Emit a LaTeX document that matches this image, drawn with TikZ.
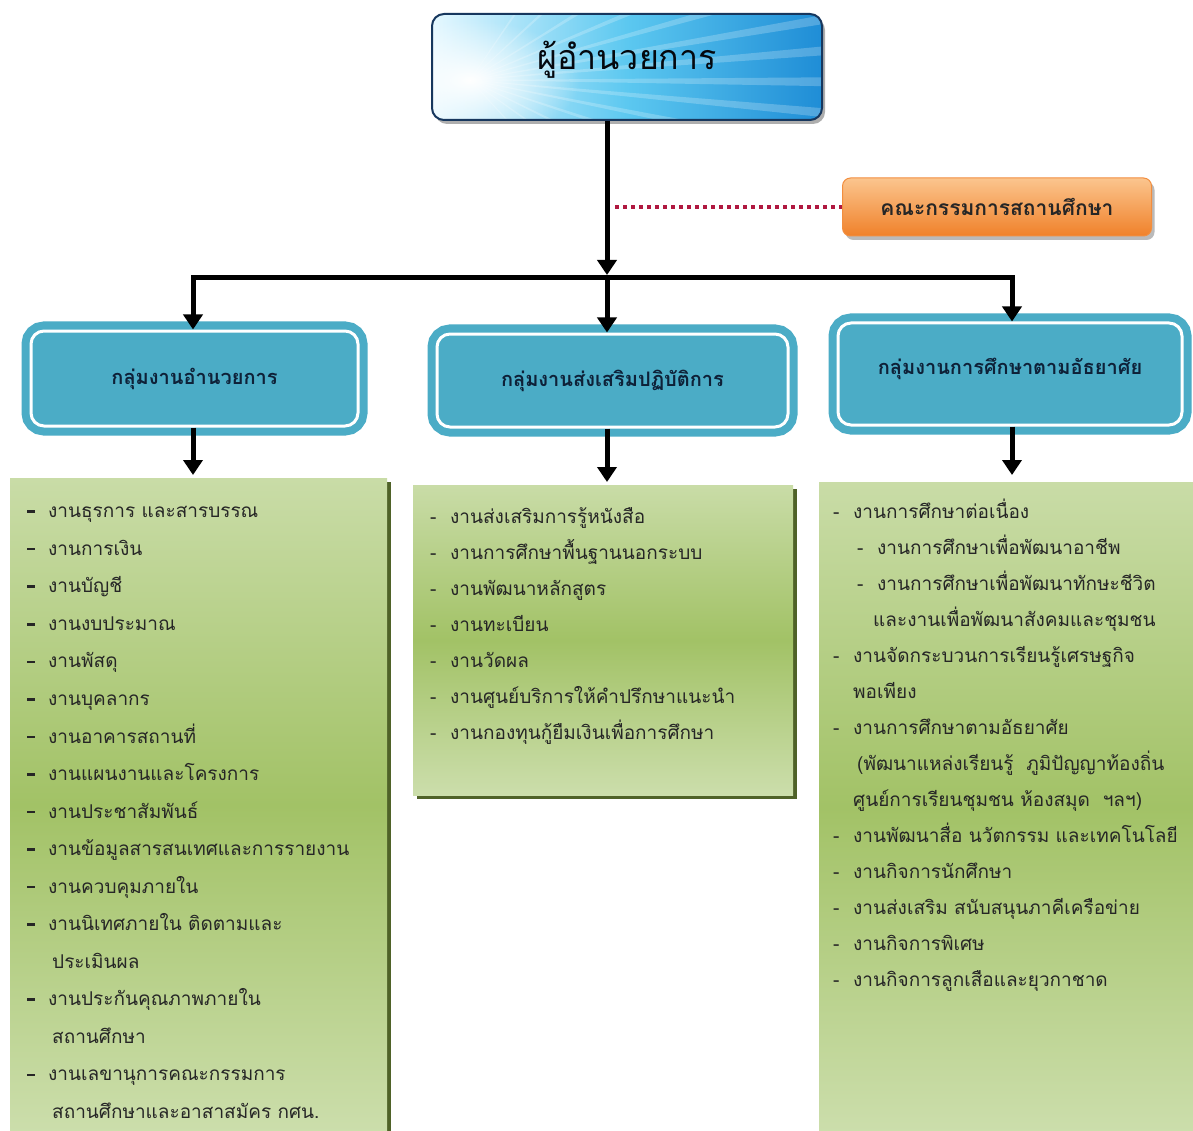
\documentclass[tikz,border=0pt]{standalone}
\usepackage{fontspec}
\newfontfamily\thai[Script=Thai]{Loma}
\usetikzlibrary{arrows.meta,fadings,shadows}
\tikzfading[name=glowfade, inner color=transparent!0, outer color=transparent!100]
\definecolor{grpc}{HTML}{4BACC6}
\definecolor{navy}{HTML}{17375E}
\definecolor{txtc}{HTML}{262626}
\definecolor{lgreen}{HTML}{C9DCA7}
\definecolor{dgreen}{HTML}{A2C266}
\definecolor{shgreen}{HTML}{4F6228}
\definecolor{orgtop}{HTML}{FBC58E}
\definecolor{orgbot}{HTML}{F0812A}
\definecolor{dotred}{HTML}{B01840}
\definecolor{skyL}{HTML}{E6F8FF}
\definecolor{skyM}{HTML}{5CC8F0}
\definecolor{skyR}{HTML}{1F8DD6}
\newcommand\ldash{\llap{\makebox[21pt][l]{\rule[4.8pt]{8pt}{2.6pt}}}}
\newcommand\mdash{\llap{\makebox[20pt][l]{-}}}
\tikzset{
  conn/.style={line width=5pt, draw=black},
  arr/.style={conn, -{Triangle[length=15pt,width=19pt]}},
  dotline/.style={draw=dotred, line width=3.5pt, dash pattern=on 3.5pt off 4.5pt},
  dirbox/.style={rectangle, rounded corners=12pt, draw=navy, line width=2pt,
    left color=skyL, right color=skyR, middle color=skyM,
    drop shadow={shadow xshift=3pt, shadow yshift=-4pt, fill=black!45, opacity=0.7},
    font=\thai\fontsize{34}{40}\selectfont, text=black!85!navy,
    text height=30pt, text depth=24pt},
  combox/.style={rectangle, rounded corners=8pt, draw=orgbot!90!white, line width=1pt,
    top color=orgtop, bottom color=orgbot,
    drop shadow={shadow xshift=3pt, shadow yshift=-4pt, fill=black!45, opacity=0.6},
    font=\thai\bfseries\fontsize{21}{25}\selectfont, text=black!85},
  grpbox/.style={rectangle, rounded corners=13pt, fill=grpc, draw=white, line width=3pt,
    preaction={draw=grpc, line width=19pt},
    font=\thai\bfseries\fontsize{20}{24}\selectfont, text=navy!60!black,
    text height=20pt, text depth=8pt},
  listbox/.style={rectangle, inner sep=0pt, anchor=north west,
    top color=lgreen, bottom color=lgreen!95!white, middle color=dgreen,
    drop shadow={shadow xshift=4pt, shadow yshift=-4pt, fill=shgreen, opacity=1}},
  litem/.style={anchor=base west, inner sep=0pt, text=txtc, font=\thai\fontsize{19}{23}\selectfont},
}
\begin{document}
\begin{tikzpicture}[x=1pt,y=-1pt]
\useasboundingbox[fill=white] (0,0) rectangle (1193,1131);

% director box
\node[dirbox, minimum width=390pt, minimum height=106pt,
  path picture={
    \coordinate (o) at ([xshift=38pt,yshift=-13pt]path picture bounding box.west);
    \foreach \a in {-48,-36,-27,-19,-12,-6,-1,4,9,15,22,31,42,55}
      \fill[white,opacity=0.22] (o) -- ++(\a:560pt) -- ++(\a+90:14pt) -- cycle;
    \fill[white,path fading=glowfade] (o) ellipse (110pt and 60pt);
  }] (dir) at (627,67) {ผู้อำนวยการ};

% committee box
\node[combox, minimum width=309pt, minimum height=58pt] (comm) at (997,207) {คณะกรรมการสถานศึกษา};

% group boxes
\node[grpbox, minimum width=327pt, minimum height=95pt] (g1) at (194.5,378.5) {กลุ่มงานอำนวยการ};
\node[grpbox, minimum width=351pt, minimum height=93pt] (g2) at (612.5,380.5) {กลุ่มงานส่งเสริมปฏิบัติการ};
\node[grpbox, minimum width=344pt, minimum height=102pt, text depth=20pt] (g3) at (1010,374) {กลุ่มงานการศึกษาตามอัธยาศัย};

% list boxes
\node[listbox, minimum width=377pt, minimum height=653pt] (l1) at (10,478) {};
\node[listbox, minimum width=380pt, minimum height=310pt] (l2) at (413,485) {};
\node[listbox, minimum width=374pt, minimum height=649pt] (l3) at (819,482) {};

% connectors
\coordinate (hub) at (607,278);
\coordinate (hl) at (193,278);
\coordinate (hr) at (1012,278);
\coordinate (tap) at (607,207);
\draw[arr, shorten >=3pt] (dir.south -| hub) -- (hub);
\draw[conn, line cap=rect] (hl) -- (hr);
\draw[arr] (hl) -- (hl |- g1.north);
\draw[arr] (hub) -- (hub |- g2.north);
\draw[arr] (hr) -- (hr |- g3.north);
\draw[dotline, shorten <=8pt] (tap) -- (comm.west);
\draw[arr, shorten >=3pt] (hl |- g1.south) -- (hl |- l1.north);
\draw[arr, shorten >=3pt] (hub |- g2.south) -- (hub |- l2.north);
\draw[arr, shorten >=7pt] (hr |- g3.south) -- (hr |- l3.north);

% left list
\foreach \t [count=\k from 0] in {
  \ldash งานธุรการ และสารบรรณ,
  \ldash งานการเงิน,
  \ldash งานบัญชี,
  \ldash งานงบประมาณ,
  \ldash งานพัสดุ,
  \ldash งานบุคลากร,
  \ldash งานอาคารสถานที่,
  \ldash งานแผนงานและโครงการ,
  \ldash งานประชาสัมพันธ์,
  \ldash งานข้อมูลสารสนเทศและการรายงาน,
  \ldash งานควบคุมภายใน,
  \ldash งานนิเทศภายใน ติดตามและ,
  \hspace{4pt}ประเมินผล,
  \ldash งานประกันคุณภาพภายใน,
  \hspace{4pt}สถานศึกษา,
  \ldash งานเลขานุการคณะกรรมการ,
  \hspace{4pt}สถานศึกษาและอาสาสมัคร กศน.}
  \node[litem] (a\k) at (48,{517.7+37.55*\k}) {\t};

% middle list
\foreach \t [count=\k from 0] in {
  \mdash งานส่งเสริมการรู้หนังสือ,
  \mdash งานการศึกษาพื้นฐานนอกระบบ,
  \mdash งานพัฒนาหลักสูตร,
  \mdash งานทะเบียน,
  \mdash งานวัดผล,
  \mdash งานศูนย์บริการให้คำปรึกษาแนะนำ,
  \mdash งานกองทุนกู้ยืมเงินเพื่อการศึกษา}
  \node[litem] (b\k) at (450,{523+36*\k}) {\t};

% right list
\foreach \t [count=\k from 0] in {
  \mdash งานการศึกษาต่อเนื่อง,
  \hspace{24pt}\mdash งานการศึกษาเพื่อพัฒนาอาชีพ,
  \hspace{24pt}\mdash งานการศึกษาเพื่อพัฒนาทักษะชีวิต,
  \hspace{20pt}และงานเพื่อพัฒนาสังคมและชุมชน,
  \mdash งานจัดกระบวนการเรียนรู้เศรษฐกิจ,
  พอเพียง,
  \mdash งานการศึกษาตามอัธยาศัย,
  \hspace{4pt}(พัฒนาแหล่งเรียนรู้ \ ภูมิปัญญาท้องถิ่น,
  ศูนย์การเรียนชุมชน ห้องสมุด \ ฯลฯ),
  \mdash งานพัฒนาสื่อ นวัตกรรม และเทคโนโลยี,
  \mdash งานกิจการนักศึกษา,
  \mdash งานส่งเสริม สนับสนุนภาคีเครือข่าย,
  \mdash งานกิจการพิเศษ,
  \mdash งานกิจการลูกเสือและยุวกาชาด}
  \node[litem] (c\k) at (853,{518+36*\k}) {\t};
\end{tikzpicture}
\end{document}
